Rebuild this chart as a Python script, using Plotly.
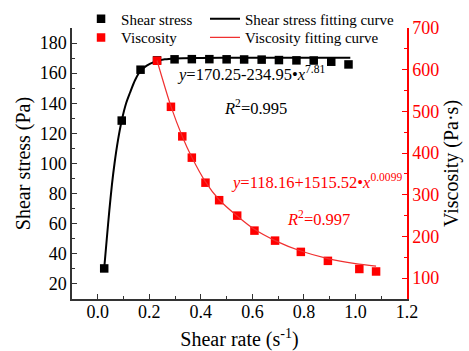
import plotly.graph_objects as go

# ---- data ----
ss_rate = [0.025, 0.093, 0.166, 0.230, 0.298, 0.365, 0.433, 0.500, 0.568, 0.636, 0.703, 0.771, 0.838, 0.906, 0.973]
ss_value = [30.3, 128.5, 162.3, 168.5, 169.2, 169.3, 169.3, 169.2, 169.1, 169.0, 168.7, 168.5, 168.4, 167.6, 165.8]

ss_fit_rate = [0.025, 0.035, 0.045, 0.055, 0.065, 0.078, 0.093, 0.11, 0.125, 0.145, 0.166, 0.19, 0.22, 0.26, 0.30, 0.40, 0.55, 0.75, 0.98]
ss_fit_value = [30.3, 50, 69, 86, 100, 115, 128.5, 140, 147, 155.5, 161.5, 165, 167.5, 169.2, 169.8, 170.1, 170.2, 170.25, 170.25]

visc_rate = [0.230, 0.284, 0.328, 0.365, 0.418, 0.471, 0.541, 0.608, 0.688, 0.788, 0.893, 1.015, 1.080]
visc_value = [621.5, 511, 440, 389, 329, 287, 250, 214, 190, 163, 141.5, 122, 116]

visc_fit_rate = [0.230, 0.284, 0.328, 0.365, 0.418, 0.471, 0.541, 0.608, 0.688, 0.788, 0.893, 1.000, 1.080]
visc_fit_value = [622, 512, 440, 390, 331, 288, 249, 217, 190, 165, 147, 135, 129]

x_ticks = [0.0, 0.2, 0.4, 0.6, 0.8, 1.0, 1.2]
y1_ticks = [20, 40, 60, 80, 100, 120, 140, 160, 180]
y2_ticks = [100, 200, 300, 400, 500, 600, 700]

FONT = "Liberation Serif, Times New Roman, DejaVu Serif, serif"
RED = "#ff0000"

fig = go.Figure()

fig.add_trace(go.Scatter(
    x=ss_rate, y=ss_value, mode="markers", name="Shear stress",
    marker=dict(symbol="square", size=8.5, color="black"),
    legend="legend", yaxis="y"))
fig.add_trace(go.Scatter(
    x=ss_fit_rate, y=ss_fit_value, mode="lines", name="Shear stress fitting curve",
    line=dict(color="black", width=2, shape="spline", smoothing=0.8),
    legend="legend2", yaxis="y"))
fig.add_trace(go.Scatter(
    x=visc_rate, y=visc_value, mode="markers", name="Viscosity",
    marker=dict(symbol="square", size=8.5, color=RED),
    legend="legend3", yaxis="y2"))
fig.add_trace(go.Scatter(
    x=visc_fit_rate, y=visc_fit_value, mode="lines", name="Viscosity fitting curve",
    line=dict(color="#f03030", width=1.2, shape="spline", smoothing=0.8),
    legend="legend4", yaxis="y2"))

axis_common = dict(showgrid=False, zeroline=False, showline=True, linewidth=1.5,
                   ticks="inside", ticklen=5, tickwidth=1.2, automargin=False)

def leg(x, y):
    return dict(x=x, y=y, xanchor="left", yanchor="middle", bgcolor="rgba(0,0,0,0)",
                font=dict(family=FONT, size=15), tracegroupgap=0)

ROW1 = (299 - 19) / 271
ROW2 = (299 - 37.7) / 271

fig.update_layout(
    width=469, height=351,
    margin=dict(l=72, r=62, t=28, b=52, autoexpand=False),
    paper_bgcolor="white", plot_bgcolor="white",
    font=dict(family=FONT, size=18, color="black"),
    xaxis=dict(**axis_common, range=[-0.1, 1.2], tickvals=x_ticks, tickformat=".1f",
               linecolor="#333", tickcolor="#333", tickfont=dict(family=FONT, size=18),
               ticklabelstandoff=-4,
               minor=dict(dtick=0.1, tick0=0, ticks="inside", ticklen=3, tickcolor="#333"),
               title=dict(text="Shear rate (s<sup>-1</sup>)", font=dict(family=FONT, size=20), standoff=16)),
    yaxis=dict(**axis_common, range=[10, 190], tickvals=y1_ticks,
               linecolor="#333", tickcolor="#333", tickfont=dict(family=FONT, size=18),
               minor=dict(dtick=10, tick0=0, ticks="inside", ticklen=3, tickcolor="#333"),
               title=dict(text="Shear stress (Pa)", font=dict(family=FONT, size=20), standoff=4)),
    yaxis2=dict(**axis_common, range=[50, 700], tickvals=y2_ticks, overlaying="y", side="right",
                linecolor=RED, tickcolor=RED, tickfont=dict(family=FONT, size=18, color=RED),
                minor=dict(dtick=50, tick0=0, ticks="inside", ticklen=3, tickcolor=RED),
                title=dict(text="Viscosity (Pa·s)", font=dict(family=FONT, size=20, color="black"), standoff=6)),
    legend=leg(0.027, ROW1),
    legend2=leg(0.397, ROW1),
    legend3=leg(0.027, ROW2),
    legend4=leg(0.397, ROW2),
    showlegend=True,
)

fig.add_annotation(xref="paper", yref="paper", x=0.3075, y=0.833, xanchor="left", yanchor="middle",
                   text="<i>y</i>=170.25-234.95•<i>x</i><sup>7.81</sup>", showarrow=False,
                   font=dict(family=FONT, size=16.5, color="black"))
fig.add_annotation(xref="paper", yref="paper", x=0.447, y=0.705, xanchor="left", yanchor="middle",
                   text="<i>R</i><sup>2</sup>=0.995", showarrow=False,
                   font=dict(family=FONT, size=16.5, color="black"))
fig.add_annotation(xref="paper", yref="paper", x=0.4687, y=0.433, xanchor="left", yanchor="middle",
                   text="<i>y</i>=118.16+1515.52•<i>x</i><sup>0.0099</sup>", showarrow=False,
                   font=dict(family=FONT, size=16.5, color=RED))
fig.add_annotation(xref="paper", yref="paper", x=0.636, y=0.297, xanchor="left", yanchor="middle",
                   text="<i>R</i><sup>2</sup>=0.997", showarrow=False,
                   font=dict(family=FONT, size=16.5, color=RED))

fig.write_html("out.html")
